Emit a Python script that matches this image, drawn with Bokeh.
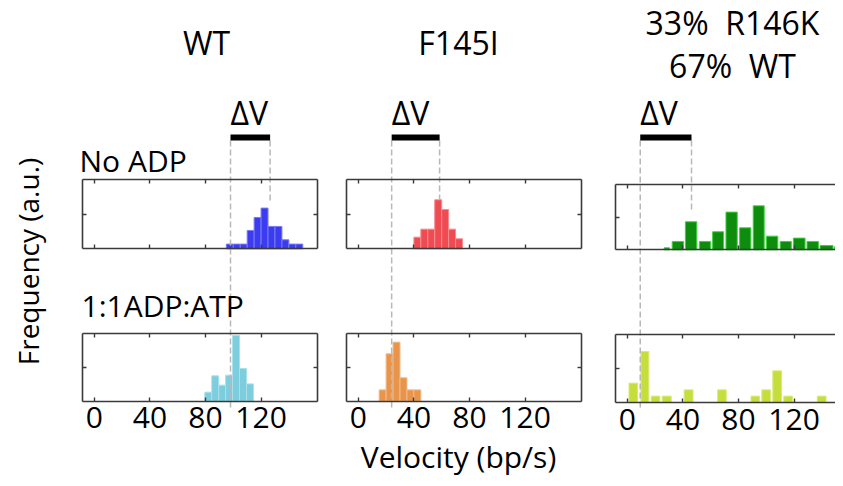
import math
from bokeh.plotting import figure
from bokeh.models import Range1d, LinearAxis, FixedTicker, Label
from bokeh.core.properties import value
from bokeh.embed import file_html
from bokeh.resources import INLINE

# ---------------- data (velocity in bp/s, frequency in a.u.) ----------------
ticks = [0, 40, 80, 120]
titles = ["WT", "F145I"]
mix_title = ["33%\u00a0 R146K", "67%\u00a0 WT"]
row_labels = ["No ADP", "1:1ADP:ATP"]

wt_noadp_edges = [95, 100, 105, 110, 115, 120, 125, 130, 135, 140, 145, 150]
wt_noadp_freq = [6.8, 6.8, 6.8, 26.6, 45.4, 59.0, 32.4, 32.4, 13.0, 6.8, 6.8]

wt_adp_edges = [79.5, 84.5, 89.5, 94.5, 99.5, 104.5, 109.5, 114.5]
wt_adp_freq = [13.4, 37.6, 23.8, 38.6, 97.5, 48.5, 25.7]

f145i_noadp_edges = [40, 45, 50, 55, 60, 65, 70, 75]
f145i_noadp_freq = [16.9, 28.5, 28.5, 71.0, 57.0, 28.5, 14.5]

f145i_adp_edges = [15, 20, 25, 30, 35, 40, 45]
f145i_adp_freq = [16.8, 70.3, 87.6, 34.7, 16.8, 16.8]

mix_noadp_left = [26.5, 32.3, 41.8, 51.9, 61.4, 71.0, 80.8, 90.6, 100.2, 110.0, 119.5, 129.3, 138.7, 149.0]
mix_noadp_right = [30.4, 40.4, 50.0, 59.8, 69.3, 79.1, 88.9, 98.5, 108.3, 118.0, 127.9, 137.5, 148.0, 157.0]
mix_noadp_freq = [3.0, 12.8, 42.9, 12.8, 27.6, 57.7, 33.7, 67.3, 20.9, 12.8, 17.9, 12.8, 6.6, 4.6]

mix_adp_left = [1.2, 9.8, 17.2, 25.1, 40.9, 65.0, 89.0, 96.8, 104.7, 112.6, 136.7]
mix_adp_right = [7.4, 15.5, 23.4, 31.6, 47.3, 71.2, 95.1, 103.0, 111.0, 118.8, 143.0]
mix_adp_freq = [28.6, 75.4, 9.4, 9.4, 18.7, 18.7, 9.4, 18.7, 46.8, 9.4, 9.4]

# delta-V markers (bp/s): velocity with ADP and without ADP
dv_adp = [98.0, 24.0, 9.3]
dv_noadp = [126.5, 58.5, 46.2]

# ---------------- layout / style ----------------
W, H = 835, 478
FONT = "Open Sans"
VMIN, VMAX = -8.5, 160.6
BOX_W = 235
box_left = [82, 346, 615]
top_box = [(248.3, 179.3), (248.3, 179.3), (249.3, 184.0)]   # (bottom, top) canvas px
bot_box = [(400.7, 333.3), (400.7, 333.3), (402.0, 334.3)]
dash_top, dash_bottom = 140, 410
dash_right_end = [203, 199, 212]
bar_y, dv_text_y = 137, 112

top_colors = [("#3b3bef", "#7a7af6"), ("#ef4b52", "#f58c90"), ("#0d8c0d", "#3fd23f")]
bot_colors = [("#7ccddd", "#a9e1eb"), ("#e8954b", "#f3ba88"), ("#c6de3b", "#d9ea7c")]
BOX_COLOR = "#3a3a3a"
DASH_COLOR = "#b8b8b8"

p = figure(width=W, height=H, output_backend="svg", toolbar_location=None,
           x_range=Range1d(0, W), y_range=Range1d(H, 0),
           x_axis_type=None, y_axis_type=None, min_border=0,
           outline_line_color=None)
p.background_fill_color = "white"
p.border_fill_color = "white"

s = BOX_W / (VMAX - VMIN)
xr, yr = {}, {}
for i in range(3):
    L = box_left[i]
    xr[f"c{i}"] = Range1d(VMIN - L / s, VMIN + (W - L) / s)
    for row, (B, T) in (("t", top_box[i]), ("b", bot_box[i])):
        k = (B - T) / 100.0
        yr[f"{row}{i}"] = Range1d((B - H) / k, B / k)
p.extra_x_ranges = xr
p.extra_y_ranges = yr


def add_axes(xname, yname, show_labels):
    common = dict(x_range_name=xname, y_range_name=yname,
                  axis_line_color=BOX_COLOR, axis_line_width=1.6,
                  major_tick_line_color=BOX_COLOR, major_tick_line_width=1.4,
                  major_tick_in=4, major_tick_out=0,
                  minor_tick_in=0, minor_tick_out=0)
    hidden = dict(major_label_text_color=None)
    bl = LinearAxis(fixed_location=0, bounds=(VMIN, VMAX),
                    ticker=FixedTicker(ticks=ticks, minor_ticks=[]), **common)
    if show_labels:
        bl.major_label_text_font = FONT
        bl.major_label_text_font_size = "30px"
        bl.major_label_text_color = "black"
        bl.major_label_standoff = 6
    else:
        bl.major_label_text_color = None
    ab = LinearAxis(fixed_location=100, bounds=(VMIN, VMAX),
                    ticker=FixedTicker(ticks=ticks, minor_ticks=[]), **hidden, **common)
    lf = LinearAxis(fixed_location=VMIN, bounds=(0, 100),
                    ticker=FixedTicker(ticks=[50], minor_ticks=[]), **hidden, **common)
    rt = LinearAxis(fixed_location=VMAX, bounds=(0, 100),
                    ticker=FixedTicker(ticks=[50], minor_ticks=[]), **hidden, **common)
    p.add_layout(bl, "below")
    p.add_layout(ab, "above")
    p.add_layout(lf, "left")
    p.add_layout(rt, "right")


def hist(edges, freq):
    return edges[:-1], edges[1:], freq


panels_top = [hist(wt_noadp_edges, wt_noadp_freq),
              hist(f145i_noadp_edges, f145i_noadp_freq),
              (mix_noadp_left, mix_noadp_right, mix_noadp_freq)]
panels_bot = [hist(wt_adp_edges, wt_adp_freq),
              hist(f145i_adp_edges, f145i_adp_freq),
              (mix_adp_left, mix_adp_right, mix_adp_freq)]

for i in range(3):
    c = f"c{i}"
    lt, rt_, ft = panels_top[i]
    p.quad(left=lt, right=rt_, bottom=0, top=ft, x_range_name=c, y_range_name=f"t{i}",
           fill_color=top_colors[i][0], line_color=top_colors[i][1], line_width=1)
    lb, rb, fb = panels_bot[i]
    p.quad(left=lb, right=rb, bottom=0, top=fb, x_range_name=c, y_range_name=f"b{i}",
           fill_color=bot_colors[i][0], line_color=bot_colors[i][1], line_width=1)
    # dashed guide lines
    p.segment(x0=[dv_adp[i]], y0=[dash_top], x1=[dv_adp[i]], y1=[dash_bottom],
              x_range_name=c, line_color=DASH_COLOR, line_width=1.5, line_dash="6 3")
    p.segment(x0=[dv_noadp[i]], y0=[dash_top], x1=[dv_noadp[i]], y1=[dash_right_end[i]],
              x_range_name=c, line_color=DASH_COLOR, line_width=1.5, line_dash="6 3")
    # black delta-V bar
    p.segment(x0=[dv_adp[i]], y0=[bar_y], x1=[dv_noadp[i]], y1=[bar_y],
              x_range_name=c, line_color="black", line_width=6, line_cap="butt")
    p.text(x=[dv_adp[i]], y=[dv_text_y], text=["ΔV"], x_range_name=c,
           text_font=value(FONT), text_font_size=value("32px"),
           text_align="left", text_baseline="middle", text_color="black")
    add_axes(c, f"t{i}", False)
    add_axes(c, f"b{i}", True)

# ---------------- texts ----------------
def lab(x, y, t, size, align="center", angle=0.0):
    p.add_layout(Label(x=x, y=y, text=t, text_font=FONT, text_font_size=size,
                       text_align=align, text_baseline="middle", angle=angle,
                       text_color="black"))

lab(206, 42, titles[0], "32px")
lab(458, 42, titles[1], "32px")
lab(732, 22, mix_title[0], "32px")
lab(732, 65, mix_title[1], "32px")
lab(79, 160, row_labels[0], "30px", align="left")
lab(81, 305, row_labels[1], "30px", align="left")
lab(27, 261, "Frequency (a.u.)", "28px", angle=math.pi / 2)
lab(458, 456, "Velocity (bp/s)", "30px")

open("out.html", "w").write(file_html(p, INLINE))
